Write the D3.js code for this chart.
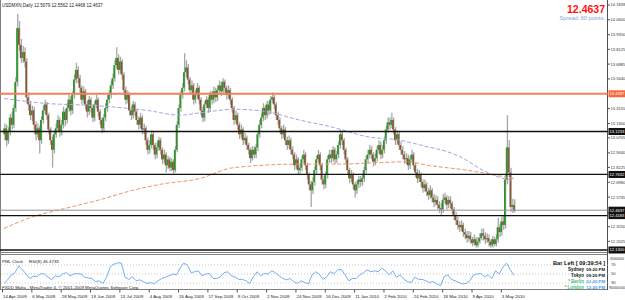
<!DOCTYPE html>
<html><head><meta charset="utf-8">
<script src="https://cdn.jsdelivr.net/npm/d3@7"></script>
<style>html,body{margin:0;padding:0;background:#fff;overflow:hidden}svg{display:block}</style>
</head><body><svg id="c" width="625" height="300"></svg>
<script>
// ---------- DATA ----------
const header = "USDMXN,Daily  12.5079 12.5562 12.4468 12.4637";
const firstOpen = 13.10;
const closes = [
13.15,13.05,13.12,13.24,13.18,13.32,13.54,13.99,13.85,13.74,
13.79,13.71,13.41,13.35,13.26,13.30,13.18,13.10,13.15,13.05,
13.22,13.30,13.35,13.26,13.14,13.05,12.97,13.10,13.15,13.22,
13.12,13.18,13.29,13.22,13.32,13.39,13.30,13.43,13.56,13.64,
13.57,13.49,13.39,13.46,13.35,13.29,13.39,13.32,13.24,13.35,
13.39,13.29,13.22,13.15,13.24,13.32,13.39,13.43,13.51,13.57,
13.68,13.74,13.64,13.71,13.60,13.47,13.39,13.43,13.30,13.26,
13.35,13.29,13.22,13.18,13.24,13.14,13.15,13.05,12.97,13.01,
13.10,13.01,12.93,12.99,13.05,12.97,12.89,12.93,12.84,12.89,
12.82,12.87,12.80,12.97,13.18,13.32,13.43,13.49,13.62,13.66,
13.56,13.47,13.51,13.39,13.43,13.49,13.39,13.30,13.24,13.35,
13.39,13.32,13.43,13.39,13.46,13.41,13.47,13.51,13.46,13.54,
13.49,13.43,13.47,13.39,13.32,13.22,13.26,13.18,13.10,13.14,
13.05,13.07,13.01,12.97,12.90,12.97,12.93,12.99,13.10,13.18,
13.24,13.32,13.26,13.35,13.30,13.39,13.41,13.35,13.26,13.22,
13.15,13.10,13.14,13.05,13.01,13.05,12.97,12.93,12.84,12.89,
12.80,12.82,12.89,12.93,12.84,12.76,12.68,12.63,12.70,12.80,
12.89,12.93,12.84,12.72,12.68,12.76,12.89,12.93,12.90,12.97,
12.89,12.93,13.01,13.10,13.05,12.97,12.89,12.80,12.73,12.76,
12.68,12.63,12.68,12.72,12.70,12.73,12.80,12.89,12.93,12.97,
12.93,12.87,12.90,12.97,13.01,12.93,12.97,13.05,13.14,13.20,
13.18,13.22,13.14,13.05,13.10,13.01,12.97,12.93,12.89,12.90,
12.84,12.89,12.93,12.84,12.78,12.73,12.76,12.70,12.65,12.68,
12.62,12.59,12.63,12.57,12.53,12.55,12.51,12.48,12.47,12.55,
12.57,12.51,12.55,12.52,12.47,12.42,12.38,12.34,12.32,12.34,
12.28,12.26,12.23,12.25,12.22,12.19,12.22,12.17,12.20,12.23,
12.27,12.25,12.22,12.23,12.20,12.17,12.22,12.18,12.22,12.32,
12.28,12.37,12.34,12.72,12.99,12.78,12.49,12.5079,12.4637];
const highs = [
13.19,13.18,13.16,13.27,13.29,13.35,13.58,14.11,14.05,13.90,
13.84,13.83,13.74,13.45,13.38,13.34,13.33,13.21,13.19,13.17,
13.25,13.34,13.39,13.37,13.28,13.16,13.08,13.13,13.19,13.26,
13.24,13.22,13.33,13.31,13.36,13.43,13.42,13.46,13.60,13.70,
13.67,13.60,13.51,13.50,13.48,13.38,13.42,13.41,13.35,13.38,
13.43,13.41,13.31,13.24,13.27,13.36,13.43,13.47,13.55,13.61,
13.72,13.83,13.77,13.75,13.73,13.62,13.50,13.47,13.45,13.33,
13.38,13.37,13.31,13.25,13.28,13.26,13.19,13.17,13.07,13.05,
13.13,13.12,13.03,13.03,13.08,13.07,12.99,12.97,12.95,12.92,
12.91,12.90,12.89,13.00,13.21,13.35,13.47,13.53,13.78,13.72,
13.69,13.58,13.55,13.53,13.47,13.53,13.51,13.41,13.33,13.38,
13.42,13.41,13.46,13.46,13.50,13.49,13.51,13.55,13.54,13.57,
13.56,13.51,13.51,13.49,13.41,13.34,13.30,13.28,13.20,13.18,
13.16,13.11,13.09,13.03,12.99,13.00,13.00,13.02,13.13,13.22,
13.28,13.36,13.34,13.38,13.38,13.42,13.45,13.43,13.37,13.29,
13.24,13.17,13.18,13.16,13.08,13.09,13.07,13.00,12.95,12.93,
12.91,12.86,12.92,12.97,12.95,12.86,12.78,12.71,12.74,12.83,
12.92,12.97,12.95,12.86,12.75,12.79,12.92,12.97,12.97,13.00,
12.99,12.96,13.04,13.14,13.12,13.07,12.99,12.91,12.82,12.80,
12.78,12.70,12.71,12.75,12.75,12.77,12.83,12.92,12.97,13.01,
13.00,12.95,12.94,13.00,13.05,13.04,13.01,13.08,13.17,13.24,
13.24,13.28,13.24,13.16,13.13,13.12,13.04,13.00,12.96,12.94,
12.93,12.92,12.97,12.95,12.86,12.81,12.80,12.78,12.72,12.72,
12.70,12.65,12.67,12.65,12.60,12.59,12.58,12.54,12.52,12.60,
12.61,12.59,12.58,12.58,12.54,12.49,12.45,12.41,12.37,12.38,
12.36,12.31,12.29,12.29,12.28,12.24,12.26,12.24,12.24,12.27,
12.31,12.31,12.28,12.27,12.26,12.22,12.25,12.24,12.26,12.40,
12.35,12.41,12.42,12.76,13.26,13.05,12.82,12.56,12.5562];
const lows = [
13.05,13.00,13.02,13.09,13.14,13.15,13.29,13.50,13.80,13.70,
13.70,13.66,13.36,13.30,13.22,13.21,13.14,13.05,13.07,12.94,
13.02,13.19,13.27,13.22,13.10,13.01,12.82,12.94,13.07,13.12,
13.08,13.09,13.15,13.17,13.19,13.29,13.26,13.27,13.40,13.53,
13.53,13.45,13.35,13.36,13.31,13.24,13.26,13.28,13.20,13.21,
13.32,13.25,13.18,13.11,13.12,13.21,13.29,13.36,13.40,13.48,
13.54,13.65,13.60,13.61,13.56,13.43,13.35,13.36,13.26,13.22,
13.23,13.25,13.18,13.14,13.15,13.10,13.10,13.01,12.93,12.94,
12.98,12.97,12.89,12.90,12.96,12.93,12.85,12.86,12.78,12.81,
12.79,12.79,12.77,12.78,12.95,13.15,13.29,13.40,13.46,13.58,
13.52,13.43,13.44,13.35,13.36,13.40,13.35,13.26,13.20,13.21,
13.32,13.28,13.29,13.35,13.36,13.37,13.38,13.44,13.42,13.43,
13.45,13.39,13.40,13.35,13.28,13.18,13.19,13.14,13.06,13.07,
13.01,13.02,12.97,12.93,12.86,12.88,12.90,12.90,12.96,13.07,
13.15,13.21,13.22,13.23,13.26,13.27,13.36,13.31,13.22,13.18,
13.11,13.06,13.07,13.01,12.97,12.98,12.93,12.89,12.80,12.81,
12.76,12.77,12.79,12.86,12.80,12.72,12.63,12.49,12.60,12.67,
12.77,12.86,12.80,12.68,12.64,12.65,12.73,12.86,12.86,12.87,
12.85,12.86,12.90,12.98,13.01,12.93,12.85,12.76,12.69,12.70,
12.64,12.57,12.60,12.65,12.66,12.67,12.70,12.77,12.86,12.90,
12.89,12.83,12.84,12.87,12.94,12.89,12.90,12.94,13.02,13.11,
13.14,13.15,13.10,13.01,13.02,12.97,12.93,12.89,12.85,12.85,
12.80,12.81,12.86,12.80,12.74,12.69,12.70,12.66,12.61,12.62,
12.58,12.55,12.56,12.53,12.49,12.50,12.47,12.44,12.42,12.44,
12.52,12.47,12.48,12.48,12.43,12.38,12.34,12.30,12.28,12.29,
12.24,12.22,12.19,12.20,12.18,12.16,12.17,12.15,12.15,12.18,
12.21,12.21,12.18,12.19,12.16,12.15,12.15,12.16,12.16,12.19,
12.24,12.25,12.30,12.31,12.68,12.74,12.45,12.44,12.4468];
// RSI(8), read every 2nd bar
const rsiStep = 2;
const rsiValues = [
29,37,48,53,68,60,50,40,45,44, 51,50,43,37,46,44,50,53,46,50,
51,50,43,41,40,33,35,29,44,66, 72,75,74,43,38,44,35,37,33,29,
31,28,35,40,43,46,50,48,63,74, 70,53,55,57,46,50,51,40,40,44,
53,55,46,43,38,38,35,29,44,55, 46,51,50,57,53,46,40,37,40,33,
29,35,31,28,48,55,49,38,44,55, 51,59,60,48,35,40,40,48,53,59,
55,57,55,63,57,48,57,43,48,38, 33,31,43,38,38,35,31,33,28,24,
44,48,38,35,31,28,29,35,48,50, 51,44,48,40,57,50,65,74,60,47];
const rsiLabel = "RSI(8) 46.4733";
// moving averages (read at these bars)
const maBlueBars = [0,22,50,78,96,107,126,143,161,179,198,216,227,249,261,270,278];
const maBlueVals = [13.40,13.36,13.34,13.30,13.26,13.28,13.31,13.29,13.22,13.16,13.08,13.05,13.01,12.91,12.80,12.74,12.71];
const maOrangeBars = [0,16,31,52,70,85,107,125,161,183,201,220,231,252,267,278];
const maOrangeVals = [12.31,12.41,12.47,12.55,12.63,12.68,12.73,12.82,12.85,12.85,12.86,12.87,12.84,12.80,12.76,12.73];
// horizontal lines
const orangeLevel = 13.4397;
const blackLevels = [13.1233, 12.7632, 12.4183, 12.1300];
const bidLevel = 12.4637;
// axis
const yTicks = [14.1839,14.0600,13.9350,13.8125,13.6885,13.5640,13.3155,13.1900,13.0705,12.9440,12.8225,12.6980,12.5735,12.3250,12.2025];
const xLabelBars = [0,16,32,48,64,80,96,112,128,144,160,176,192,208,224,240,256,272];
const xLabels = ["14 Apr 2009","6 May 2009","28 May 2009","19 Jun 2009","13 Jul 2009","4 Aug 2009","26 Aug 2009","17 Sep 2009","9 Oct 2009","2 Nov 2009","24 Nov 2009","16 Dec 2009","11 Jan 2010","2 Feb 2010","24 Feb 2010","18 Mar 2010","9 Apr 2010","3 May 2010"];
const rsiLevels = [70,50,30];
const clockRows = [["Sydney","09:20 PM"],["Tokyo","09:20 PM"],["* Berlin","01:20 PM"],["* London","12:20 PM"]];

// ---------- DRAW ----------
const svg = d3.select("#c");
const N = closes.length;
const FONT = "'Liberation Sans', Arial, sans-serif";
const x = d3.scaleLinear().domain([0, N-1]).range([4, 4 + 1.834*(N-1)]);
const y = d3.scaleLinear().domain([12.1300, 14.1839]).range([250, 5]);
const ry = d3.scaleLinear().domain([30, 70]).range([283, 265]);
const AX = 607.5;

svg.append("rect").attr("width",625).attr("height",300).attr("fill","#fff");

// frame
const frame = svg.append("g").attr("stroke","#808080").attr("stroke-width",1);
frame.append("line").attr("x1",0.5).attr("x2",0.5).attr("y1",0).attr("y2",290);
frame.append("line").attr("x1",0).attr("x2",AX).attr("y1",252.5).attr("y2",252.5);
frame.append("line").attr("x1",0).attr("x2",AX).attr("y1",254.5).attr("y2",254.5);
frame.append("line").attr("x1",0).attr("x2",AX).attr("y1",289.5).attr("y2",289.5);
svg.append("line").attr("x1",AX).attr("x2",AX).attr("y1",0).attr("y2",290).attr("stroke","#505050");

// candles
const bars = d3.range(N).map(i => ({i, o: i===0 ? firstOpen : closes[i-1], c: closes[i], h: highs[i], l: lows[i]}));
const cg = svg.append("g");
cg.selectAll("line.w").data(bars).join("line")
  .attr("x1", d => x(d.i)+0.9).attr("x2", d => x(d.i)+0.9)
  .attr("y1", d => y(d.h)).attr("y2", d => y(d.l))
  .attr("stroke","#a6a6a6").attr("stroke-width",1.3);
cg.selectAll("rect.b").data(bars).join("rect")
  .attr("x", d => x(d.i)-0.7).attr("width",1.7)
  .attr("y", d => y(Math.max(d.o,d.c)))
  .attr("height", d => Math.max(0.8, Math.abs(y(d.o)-y(d.c))))
  .attr("fill", d => d.c >= d.o ? "#2a962a" : "#875634");

// moving averages
const blue = maBlueBars.map((b,k)=>[b, maBlueVals[k]]);
const orng = maOrangeBars.map((b,k)=>[b, maOrangeVals[k]]);
const ln = d3.line().x(d=>x(d[0])).y(d=>y(d[1])).curve(d3.curveMonotoneX);
svg.append("path").attr("d", ln(blue)).attr("fill","none").attr("stroke","#a7a3e6").attr("stroke-width",1).attr("stroke-dasharray","4,2");
svg.append("path").attr("d", ln(orng)).attr("fill","none").attr("stroke","#f29466").attr("stroke-width",1).attr("stroke-dasharray","4,2");

// horizontal levels
svg.append("line").attr("x1",0).attr("x2",AX).attr("y1",y(orangeLevel)).attr("y2",y(orangeLevel)).attr("stroke","#f37f5b").attr("stroke-width",2);
svg.append("line").attr("x1",0).attr("x2",AX).attr("y1",y(bidLevel)).attr("y2",y(bidLevel)).attr("stroke","#909090").attr("stroke-width",1);
blackLevels.forEach(v => svg.append("line").attr("x1",0).attr("x2",AX).attr("y1",y(v)).attr("y2",y(v)).attr("stroke","#111").attr("stroke-width",1.3));

// y axis ticks
const ya = svg.append("g").attr("font-family",FONT).attr("font-size",4.1).attr("fill","#333");
yTicks.forEach(v => {
  ya.append("line").attr("x1",AX).attr("x2",AX+2.5).attr("y1",y(v)).attr("y2",y(v)).attr("stroke","#505050");
  ya.append("text").attr("x",610.5).attr("y",y(v)).attr("dy","0.35em").text(v.toFixed(4));
});
function boxLabel(v, bg, fg){
  svg.append("rect").attr("x",608.5).attr("y",y(v)-3.5).attr("width",17).attr("height",7).attr("fill",bg);
  svg.append("text").attr("x",609.5).attr("y",y(v)).attr("dy","0.35em").attr("font-family",FONT).attr("font-size",4.1).attr("fill",fg).text(v.toFixed(4));
}
boxLabel(orangeLevel, "#f46a3c", "#fff");
blackLevels.forEach(v => boxLabel(v, "#111", "#fff"));
boxLabel(bidLevel, "#111", "#fff");

// RSI panel
rsiLevels.forEach(v => svg.append("line").attr("x1",1).attr("x2",AX).attr("y1",ry(v)).attr("y2",ry(v)).attr("stroke","#c8c8c8").attr("stroke-dasharray","1,2"));
const rline = d3.line().x((d,k)=>x(k*rsiStep)).y(d=>ry(d));
svg.append("path").attr("d", rline(rsiValues)).attr("fill","none").attr("stroke","#73aef2").attr("stroke-width",1);
const rl = svg.append("g").attr("font-family",FONT).attr("font-size",4.1).attr("fill","#333");
rsiLevels.forEach(v => rl.append("text").attr("x",611).attr("y",ry(v)).attr("dy","0.35em").text(v));
rl.append("text").attr("x",609).attr("y",259).attr("dy","0.35em").text("-900000");
rl.append("text").attr("x",609).attr("y",288).attr("dy","0.35em").text("9000000");

// x axis
const xa = svg.append("g").attr("font-family",FONT).attr("font-size",4.4).attr("fill","#222");
xLabelBars.forEach((b,k) => {
  xa.append("line").attr("x1",x(b)-1.5).attr("x2",x(b)-1.5).attr("y1",289.5).attr("y2",292.5).attr("stroke","#505050");
  xa.append("text").attr("x",x(b)-1).attr("y",297.5).text(xLabels[k]);
});

// texts
svg.append("text").attr("x",2).attr("y",7.3).attr("font-family",FONT).attr("font-size",4.5).attr("fill","#222").text(header);
svg.append("text").attr("x",605).attr("y",13).attr("text-anchor","end").attr("font-family",FONT).attr("font-weight","bold").attr("font-size",10.5).attr("fill","#ff1010").text(closes[N-1].toFixed(4));
svg.append("text").attr("x",605).attr("y",19.5).attr("text-anchor","end").attr("font-family",FONT).attr("font-size",5.6).attr("fill","#7aa6d8").text("Spread: 60 points.");
svg.append("text").attr("x",2).attr("y",263).attr("font-family",FONT).attr("font-size",4.4).attr("fill","#222").text("PML Clock");
svg.append("text").attr("x",29).attr("y",263).attr("font-family",FONT).attr("font-size",4.4).attr("fill","#222").text(rsiLabel);
svg.append("text").attr("x",2).attr("y",288.5).attr("font-family",FONT).attr("font-size",4.4).attr("fill","#222").text("FXDD Malta - MetaTrader 4, \u00a9 2001-2009 MetaQuotes Software Corp.");
// clock
svg.append("text").attr("x",605).attr("y",264.5).attr("text-anchor","end").attr("font-family",FONT).attr("font-weight","bold").attr("font-size",5.6).attr("fill","#111").text("Bar Left [ 09:39:54 ]");
clockRows.forEach((r,k) => {
  const yy = 271 + k*6;
  const star = r[0].startsWith("*");
  svg.append("text").attr("x",584).attr("y",yy).attr("text-anchor","end").attr("font-family",FONT).attr("font-weight","bold").attr("font-size",4.5).attr("fill", star ? "#3cc07a" : "#111").text(r[0]);
  svg.append("text").attr("x",605).attr("y",yy).attr("text-anchor","end").attr("font-family",FONT).attr("font-weight","bold").attr("font-size",4.3).attr("fill", star ? "#3a9cf5" : "#111").text(r[1]);
});
</script></body></html>
